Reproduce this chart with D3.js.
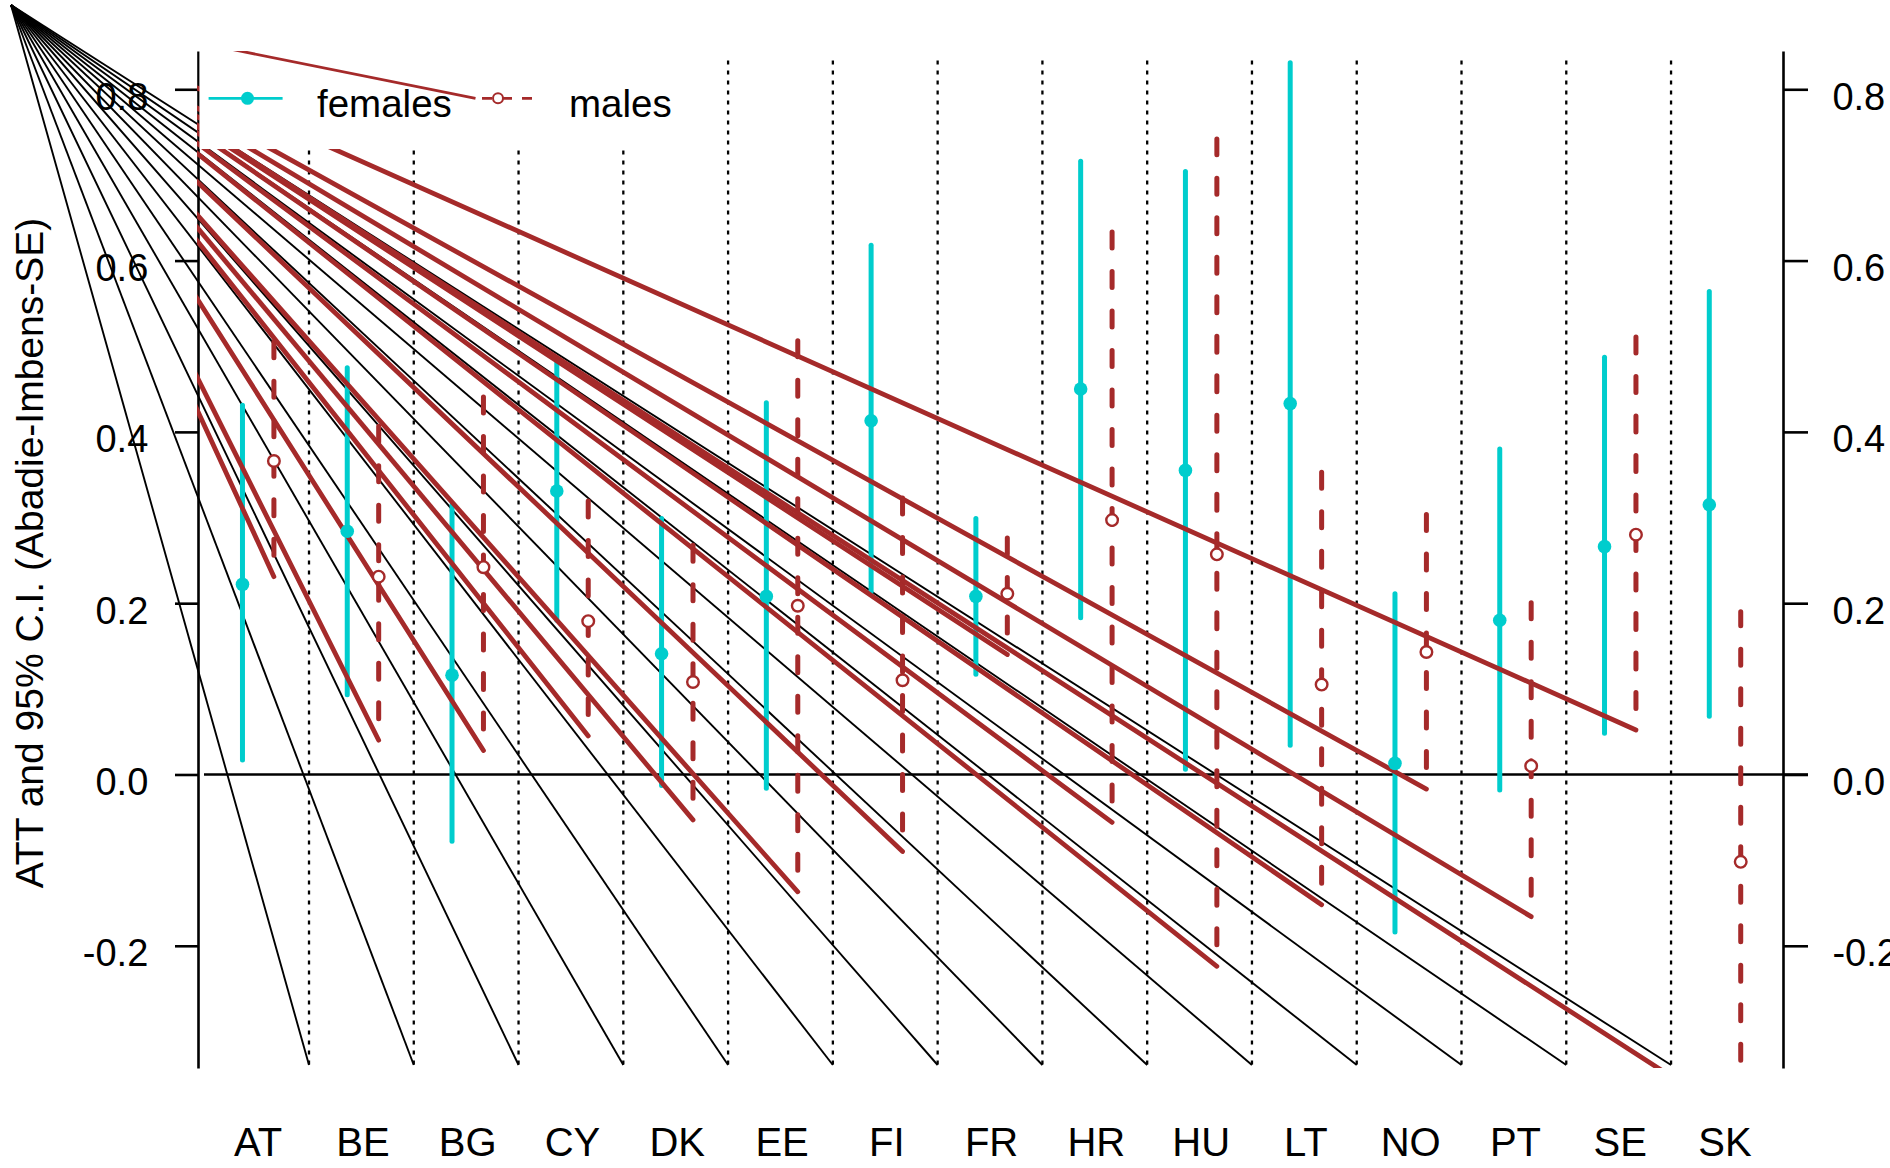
<!DOCTYPE html>
<html><head><meta charset="utf-8">
<script src="https://cdn.jsdelivr.net/npm/d3@7"></script>
<style>html,body{margin:0;padding:0;background:#fff;} svg{display:block;}</style>
</head><body>
<svg id="chart" width="1890" height="1168"></svg>
<script>
// ---------------- data ----------------
const countries   = ["AT","BE","BG","CY","DK","EE","FI","FR","HR","HU","LT","NO","PT","SE","SK"];
const femaleEst   = [0.222, 0.284, 0.116, 0.331, 0.141, 0.208, 0.413, 0.208, 0.450, 0.355, 0.433, 0.013, 0.180, 0.266, 0.315];
const femaleLower = [0.017, 0.093,-0.078, 0.180,-0.013,-0.016, 0.213, 0.117, 0.183, 0.006, 0.034,-0.184,-0.018, 0.048, 0.068];
const femaleUpper = [0.431, 0.475, 0.315, 0.482, 0.299, 0.434, 0.618, 0.299, 0.716, 0.704, 0.831, 0.211, 0.380, 0.487, 0.564];
const maleEst     = [0.366, 0.231, 0.242, 0.179, 0.108, 0.197, 0.110, 0.211, 0.297, 0.257, 0.105, 0.143, 0.010, 0.280,-0.102];
const maleLower   = [0.231, 0.040, 0.028, 0.045,-0.053,-0.137,-0.090, 0.140,-0.056,-0.224,-0.152,-0.017,-0.166, 0.052,-0.405];
const maleUpper   = [0.506, 0.410, 0.444, 0.323, 0.271, 0.508, 0.325, 0.279, 0.636, 0.742, 0.354, 0.306, 0.203, 0.513, 0.190];
const yTicks      = [-0.2, 0.0, 0.2, 0.4, 0.6, 0.8];
const yTickLabels = ["-0.2","0.0","0.2","0.4","0.6","0.8"];
const legendLabels = ["females","males"];
const yTitle = "ATT and 95% C.I. (Abadie-Imbens-SE)";

// ---------------- styles / layout ----------------
const CYAN = "#00CDCD", BROWN = "#A52A2A";
const FONT = "'Liberation Sans', Arial, Helvetica, sans-serif";
const plot = {left:198, right:1783, top:51, bottom:1068};
const apex = [11, 5];

const svg = d3.select("#chart");
const x = d3.scaleLinear().domain([0.4255, 15.5535]).range([plot.left, plot.right]);
const y = d3.scaleLinear().domain([-0.3427, 0.8447]).range([plot.bottom, plot.top]);

svg.append("defs").append("clipPath").attr("id","plotclip")
  .append("rect").attr("x",plot.left-1).attr("y",plot.top)
  .attr("width",plot.right-plot.left+1).attr("height",plot.bottom-plot.top);

const idx = d3.range(countries.length);
const sepIdx = d3.range(1, countries.length); // separators between categories
const sepX = i => x(i + 0.485);
const sepTop = 60.5, sepBottom = 1065;

// stray black lines from apex to separator bottoms
svg.append("g").selectAll("line").data(sepIdx).join("line")
  .attr("x1",apex[0]).attr("y1",apex[1])
  .attr("x2",d=>sepX(d)).attr("y2",sepBottom)
  .attr("stroke","#000").attr("stroke-width",1.9);

// dotted separators
svg.append("g").selectAll("line").data(sepIdx).join("line")
  .attr("x1",d=>sepX(d)).attr("x2",d=>sepX(d))
  .attr("y1",sepTop).attr("y2",sepBottom)
  .attr("stroke","#000").attr("stroke-width",2.3).attr("stroke-dasharray","4 6");

// zero line
svg.append("line").attr("x1",204).attr("x2",1808).attr("y1",y(0)).attr("y2",y(0))
  .attr("stroke","#000").attr("stroke-width",2.6);

// axes
const axL = svg.append("g").attr("transform",`translate(${plot.left},0)`)
  .call(d3.axisLeft(y).tickValues(yTicks).tickFormat((d,i)=>yTickLabels[i]).tickSize(23).tickSizeOuter(0).tickPadding(26.7));
const axR = svg.append("g").attr("transform",`translate(${plot.right},0)`)
  .call(d3.axisRight(y).tickValues(yTicks).tickFormat((d,i)=>yTickLabels[i]).tickSize(25).tickSizeOuter(0).tickPadding(24.4));
[axL, axR].forEach(ax=>{
  ax.select(".domain").attr("stroke","#000").attr("stroke-width",2.6);
  ax.selectAll(".tick line").attr("stroke","#000").attr("stroke-width",2.6);
  ax.selectAll(".tick text").attr("dy",20).attr("fill","#000")
    .style("font-family",FONT).style("font-size","38px");
});

// category labels
svg.append("g").selectAll("text").data(idx).join("text")
  .attr("x",d=>x(d+1)).attr("y",1156).attr("text-anchor","middle")
  .style("font-family",FONT).style("font-size","40px").attr("fill","#000")
  .text(d=>countries[d]);

// y title
svg.append("text").attr("transform","translate(43,553) rotate(-90)")
  .attr("text-anchor","middle").style("font-family",FONT).style("font-size","39px")
  .attr("fill","#000").text(yTitle);

const gData = svg.append("g").attr("clip-path","url(#plotclip)");

// female CIs
gData.append("g").selectAll("line").data(idx).join("line")
  .attr("x1",d=>x(d+1-0.15)).attr("x2",d=>x(d+1-0.15))
  .attr("y1",d=>y(femaleLower[d])).attr("y2",d=>y(femaleUpper[d]))
  .attr("stroke",CYAN).attr("stroke-width",5).attr("stroke-linecap","round");

// male CIs with stray lines from apex to lower end
const gm = gData.append("g");
idx.forEach(d=>{
  const mx = x(d+1+0.15);
  gm.append("line").attr("x1",apex[0]).attr("y1",apex[1])
    .attr("x2",mx).attr("y2",y(maleLower[d]))
    .attr("stroke",BROWN).attr("stroke-width",4.8).attr("stroke-linecap","round");
  gm.append("line").attr("x1",mx).attr("x2",mx)
    .attr("y1",y(maleLower[d])).attr("y2",y(maleUpper[d]))
    .attr("stroke",BROWN).attr("stroke-width",5).attr("stroke-linecap","round")
    .attr("stroke-dasharray","16 23.5").attr("stroke-dashoffset",18);
});

// points
gData.append("g").selectAll("circle").data(idx).join("circle")
  .attr("cx",d=>x(d+1-0.15)).attr("cy",d=>y(femaleEst[d])).attr("r",6.8).attr("fill",CYAN);
gData.append("g").selectAll("circle").data(idx).join("circle")
  .attr("cx",d=>x(d+1+0.15)).attr("cy",d=>y(maleEst[d])).attr("r",5.8)
  .attr("fill","#fff").attr("stroke",BROWN).attr("stroke-width",2.4);

// legend
const lg = svg.append("g");
lg.append("rect").attr("x",199.5).attr("y",plot.top).attr("width",500).attr("height",98).attr("fill","#fff");
const legY = 98.3;
lg.append("line").attr("x1",208.6).attr("x2",282.6).attr("y1",legY).attr("y2",legY)
  .attr("stroke",CYAN).attr("stroke-width",2.8);
lg.append("circle").attr("cx",247.5).attr("cy",legY).attr("r",6.5).attr("fill",CYAN);
lg.append("text").attr("x",317).attr("y",117).style("font-family",FONT).style("font-size","38.5px")
  .attr("fill","#000").text(legendLabels[0]);
// stray line to male legend symbol
lg.append("line").attr("clip-path","url(#plotclip)")
  .attr("x1",apex[0]).attr("y1",apex[1]).attr("x2",475.5).attr("y2",legY)
  .attr("stroke",BROWN).attr("stroke-width",2.8);
lg.append("line").attr("x1",475.5).attr("x2",534).attr("y1",legY).attr("y2",legY)
  .attr("stroke",BROWN).attr("stroke-width",2.8).attr("stroke-dasharray","10 10").attr("stroke-dashoffset",13.5);
lg.append("circle").attr("cx",498).attr("cy",legY).attr("r",5)
  .attr("fill","#fff").attr("stroke",BROWN).attr("stroke-width",2);
lg.append("text").attr("x",569).attr("y",117).style("font-family",FONT).style("font-size","38.5px")
  .attr("fill","#000").text(legendLabels[1]);
</script>
</body></html>
